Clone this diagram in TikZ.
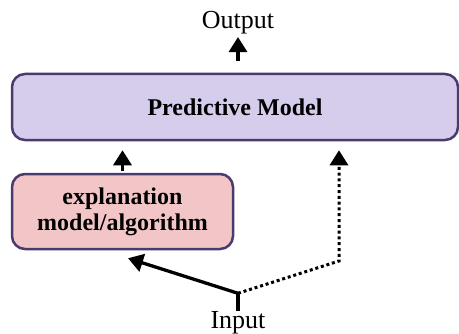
\documentclass[tikz,border=0pt]{standalone}
\usepackage{fontspec}
\setmainfont{Liberation Serif}
\usetikzlibrary{arrows.meta}
\definecolor{pmfill}{HTML}{D6CCEB}
\definecolor{exfill}{HTML}{F2C6C6}
\definecolor{boxline}{HTML}{4B3A6E}
\begin{document}
\begin{tikzpicture}[x=1pt,y=1pt,
  box/.style={draw=boxline, line width=2.5pt, rounded corners=13pt, align=center,
    font=\fontsize{24}{26}\selectfont\bfseries, inner sep=0pt},
  arr/.style={line width=3.3pt, -{Triangle[width=18pt,length=15pt]}},
  dotarr/.style={line width=3pt, dash pattern=on 3pt off 2.8pt, -{Triangle[width=18pt,length=15pt]}},
  lbl/.style={font=\fontsize{26}{28}\selectfont, inner sep=0pt}]
\useasboundingbox (0,0) rectangle (459,333);
\node[box, fill=pmfill, minimum width=446pt, minimum height=66pt] (pm) at (235,226) {Predictive Model};
\node[box, fill=exfill, minimum width=221pt, minimum height=75pt] (ex) at (122.5,121.5) {explanation\\model/algorithm};
\node[lbl, anchor=base] (out) at (238,304.7) {Output};
\node[lbl, anchor=base] (in) at (238,5) {Input};
\coordinate (j) at (238,39.7);
\coordinate (c) at (339,72);
\coordinate (exin) at ([xshift=5.5pt,yshift=-8pt]ex.south);
\draw[arr] ([yshift=12pt]pm.north -| out.south) -- ([yshift=-3pt]out.south);
\draw[arr] ([yshift=2pt]ex.north) -- ([yshift=-9pt]ex.north |- pm.south);
\draw[dotarr] (j) -- (c) -- ([yshift=-9pt]c |- pm.south);
\draw[arr] (j) -- (exin);
\draw[line width=3.3pt] (j) -- (in.north);
\end{tikzpicture}
\end{document}
